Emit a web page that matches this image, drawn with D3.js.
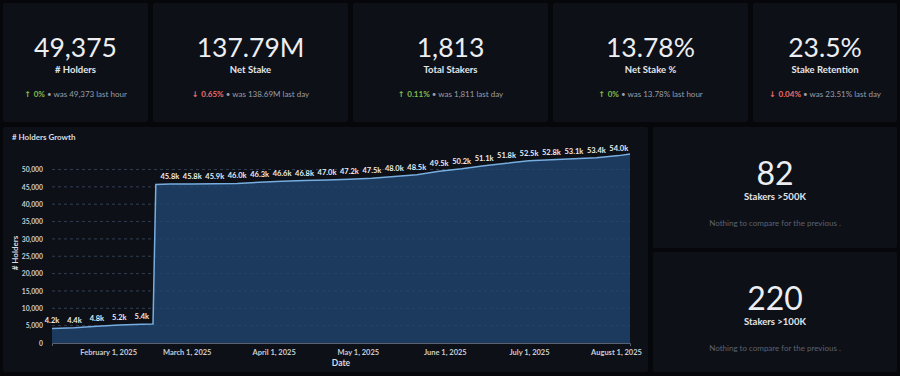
<!DOCTYPE html>
<html>
<head>
<meta charset="utf-8">
<script src="https://cdn.jsdelivr.net/npm/d3@7"></script>
<style>
  html, body { margin: 0; padding: 0; background: #06070b; }
  svg { display: block; font-family: Lato, "Noto Sans", sans-serif; }
</style>
</head>
<body>
<div id="dash"></div>
<script>
// stat cards (top row)
const statValues = ["49,375", "137.79M", "1,813", "13.78%", "23.5%"];
const statLabels = ["# Holders", "Net Stake", "Total Stakers", "Net Stake %", "Stake Retention"];
const statChanges = ["0%", "0.65%", "0.11%", "0%", "0.04%"];
const statDirections = ["up", "down", "up", "up", "down"];
const statPrevious = ["49,373", "138.69M", "1,811", "13.78%", "23.51%"];
const statPeriods = ["last hour", "last day", "last day", "last hour", "last day"];

// side cards
const sideValues = ["82", "220"];
const sideLabels = ["Stakers >500K", "Stakers >100K"];
const sideNote = "Nothing to compare for the previous .";

// # Holders Growth
const dates = ["2025-01-12", "2025-01-20", "2025-01-28", "2025-02-05", "2025-02-13", "2025-02-17",
  "2025-02-18", "2025-02-23", "2025-03-03", "2025-03-11", "2025-03-19", "2025-03-27", "2025-04-04",
  "2025-04-12", "2025-04-20", "2025-04-28", "2025-05-06", "2025-05-14", "2025-05-22", "2025-05-30",
  "2025-06-07", "2025-06-15", "2025-06-23", "2025-07-01", "2025-07-09", "2025-07-17", "2025-07-25",
  "2025-08-02", "2025-08-06"];
const holders = [4200, 4400, 4800, 5200, 5400, 5500,
  45700, 45800, 45800, 45900, 46000, 46300, 46600,
  46800, 47000, 47200, 47500, 48000, 48500, 49500,
  50200, 51100, 51800, 52500, 52800, 53100, 53400,
  54000, 54500];
const labelFlags = [1, 1, 1, 1, 1, 0,
  0, 1, 1, 1, 1, 1, 1,
  1, 1, 1, 1, 1, 1, 1,
  1, 1, 1, 1, 1, 1, 1,
  1, 0];
const monthTicks = ["2025-02-01", "2025-03-01", "2025-04-01", "2025-05-01", "2025-06-01", "2025-07-01", "2025-08-01"];
const yTicks = [0, 5000, 10000, 15000, 20000, 25000, 30000, 35000, 40000, 45000, 50000];

const width = 900, height = 376;
const cardBg = "#0d1017";
const green = "#84bb4c", red = "#ed6e6e";

const svg = d3.select("#dash").append("svg")
    .attr("width", width)
    .attr("height", height)
    .attr("viewBox", [0, 0, width, height]);

// ---- top cards
const topCards = [[3, 148], [153, 348], [353, 548], [553, 748], [753, 897]];

topCards.forEach(([x0, x1], i) => {
  const cx = (x0 + x1) / 2;
  svg.append("rect")
      .attr("x", x0).attr("y", 3)
      .attr("width", x1 - x0).attr("height", 119)
      .attr("rx", 2)
      .attr("fill", cardBg);

  svg.append("text")
      .attr("x", cx).attr("y", 57)
      .attr("text-anchor", "middle")
      .attr("fill", "#eceef2")
      .attr("font-size", 26.5)
      .text(statValues[i]);

  svg.append("text")
      .attr("x", cx).attr("y", 73)
      .attr("text-anchor", "middle")
      .attr("fill", "#e3e5ea")
      .attr("font-size", 9.5)
      .attr("font-weight", "bold")
      .text(statLabels[i]);

  const up = statDirections[i] === "up";
  const t = svg.append("text")
      .attr("x", cx).attr("y", 97)
      .attr("text-anchor", "middle")
      .attr("font-size", 8);
  t.append("tspan")
      .attr("fill", up ? green : red)
      .attr("font-family", "DejaVu Sans")
      .attr("font-weight", "bold")
      .text(up ? "↑ " : "↓ ");
  t.append("tspan")
      .attr("fill", up ? green : red)
      .attr("font-weight", "bold")
      .text(statChanges[i]);
  t.append("tspan")
      .attr("fill", "#9a9ea8")
      .text(" • was " + statPrevious[i] + "  ");
  t.append("tspan")
      .attr("fill", "#9a9ea8")
      .text(statPeriods[i]);
});

// ---- side cards
const sideCards = [[127, 248], [252, 372]];
sideCards.forEach(([y0, y1], i) => {
  const cx = 775;
  svg.append("rect")
      .attr("x", 653).attr("y", y0)
      .attr("width", 244).attr("height", y1 - y0)
      .attr("rx", 2)
      .attr("fill", cardBg);
  svg.append("text")
      .attr("x", cx).attr("y", y0 + 58)
      .attr("text-anchor", "middle")
      .attr("fill", "#eceef2")
      .attr("font-size", 32)
      .text(sideValues[i]);
  svg.append("text")
      .attr("x", cx).attr("y", y0 + 73)
      .attr("text-anchor", "middle")
      .attr("fill", "#e3e5ea")
      .attr("font-size", 9.5)
      .attr("font-weight", "bold")
      .text(sideLabels[i]);
  svg.append("text")
      .attr("x", cx).attr("y", y0 + 99)
      .attr("text-anchor", "middle")
      .attr("fill", "#5d6270")
      .attr("font-size", 8)
      .text(sideNote);
});

// ---- chart card
svg.append("rect")
    .attr("x", 3).attr("y", 127)
    .attr("width", 645).attr("height", 245)
    .attr("rx", 2)
    .attr("fill", cardBg);

svg.append("text")
    .attr("x", 12).attr("y", 140)
    .attr("fill", "#d8dbe0")
    .attr("font-size", 8)
    .attr("font-weight", "bold")
    .text("# Holders Growth");

const parse = d3.utcParse("%Y-%m-%d");
const data = dates.map((d, i) => ({date: parse(d), value: holders[i], label: labelFlags[i]}));

const x = d3.scaleUtc()
    .domain([parse("2025-01-12"), parse("2025-08-06")])
    .range([52, 630]);

const y = d3.scaleLinear()
    .domain([0, 50000])
    .range([343, 169.5]);

// grid
svg.append("g")
    .selectAll("line")
    .data(yTicks.filter(d => d > 0))
    .join("line")
      .attr("x1", 52).attr("x2", 630)
      .attr("y1", d => y(d)).attr("y2", d => y(d))
      .attr("stroke", "#343945")
      .attr("stroke-width", 0.8)
      .attr("stroke-dasharray", "3,3");

const area = d3.area()
    .x(d => x(d.date))
    .y0(y(0))
    .y1(d => y(d.value));

const line = d3.line()
    .x(d => x(d.date))
    .y(d => y(d.value));

svg.append("path")
    .datum(data)
    .attr("fill", "#1b3a5e")
    .attr("d", area);

// grid lines show faintly through the fill
svg.append("g")
    .selectAll("line")
    .data(yTicks.filter(d => d > 0))
    .join("line")
      .attr("x1", 52).attr("x2", 630)
      .attr("y1", d => y(d)).attr("y2", d => y(d))
      .attr("stroke", "#3f5f85")
      .attr("stroke-opacity", 0.35)
      .attr("stroke-width", 0.8)
      .attr("stroke-dasharray", "3,3");

svg.append("path")
    .datum(data)
    .attr("fill", "none")
    .attr("stroke", "#78addf")
    .attr("stroke-width", 1.5)
    .attr("d", line);

// axes
const yAxis = g => g
  .attr("transform", `translate(46,0)`)
  .call(d3.axisLeft(y).tickValues(yTicks).tickFormat(d3.format(",")).tickSize(0))
  .call(g => g.select(".domain").remove())
  .call(g => g.selectAll("text")
      .attr("fill", "#c9ccd3")
      .attr("font-size", 6.8)
      .attr("font-weight", "bold")
      .attr("font-family", "Lato"));

svg.append("g").call(yAxis);

const xAxis = g => g
  .attr("transform", `translate(0,${y(0)})`)
  .call(d3.axisBottom(x)
      .tickValues(monthTicks.map(parse))
      .tickFormat(d3.utcFormat("%B %-d, %Y"))
      .tickSizeInner(0)
      .tickSizeOuter(3)
      .tickPadding(7))
  .call(g => g.select(".domain").attr("stroke", "#5a6070"))
  .call(g => g.selectAll("text")
      .attr("fill", "#c9ccd3")
      .attr("font-size", 7.5)
      .attr("font-weight", "bold")
      .attr("font-family", "Lato"));

svg.append("g").call(xAxis);

// axis titles
svg.append("text")
    .attr("transform", `translate(18,253) rotate(-90)`)
    .attr("text-anchor", "middle")
    .attr("fill", "#d8dbe0")
    .attr("font-size", 8)
    .attr("font-weight", "bold")
    .text("# Holders");

svg.append("text")
    .attr("x", 341).attr("y", 366)
    .attr("text-anchor", "middle")
    .attr("fill", "#d8dbe0")
    .attr("font-size", 8.5)
    .attr("font-weight", "bold")
    .text("Date");

// value labels
svg.append("g")
    .selectAll("text")
    .data(data.filter(d => d.label))
    .join("text")
      .attr("x", d => x(d.date))
      .attr("y", d => y(d.value) - 5)
      .attr("text-anchor", "middle")
      .attr("fill", "#e9ebef")
      .attr("stroke", cardBg)
      .attr("stroke-width", 2)
      .attr("paint-order", "stroke")
      .attr("font-size", 7.5)
      .attr("font-weight", "bold")
      .text(d => d3.format(".1f")(d.value / 1000) + "k");
</script>
</body>
</html>
